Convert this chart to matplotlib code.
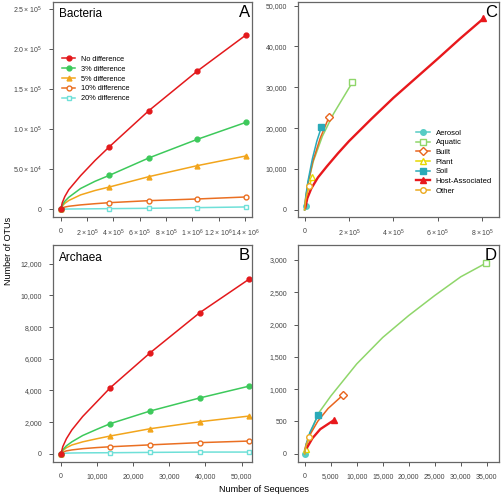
import matplotlib
matplotlib.use("Agg")
import matplotlib.pyplot as plt
from matplotlib.ticker import FixedLocator, FixedFormatter

plt.rcParams["font.family"] = ["Liberation Sans", "DejaVu Sans"]
plt.rcParams["mathtext.fontset"] = "custom"
plt.rcParams["mathtext.rm"] = "Liberation Sans"
plt.rcParams["mathtext.it"] = "Liberation Sans"

# ---- Panel A: Bacteria (marker points at 0 and the last four, early points)
bac_x = [0, 10000, 30000, 60000, 150000, 260000, 370000, 670000, 1040000, 1410000]
bac_none = [0, 8000, 16000, 24500, 42000, 61000, 78300, 123300, 172900, 217900]
bac_3 = [0, 5000, 10000, 15000, 26000, 35000, 42500, 64200, 87500, 108700]
bac_5 = [0, 4000, 7500, 11000, 18000, 23500, 27900, 40800, 54600, 66700]
bac_10 = [0, 1500, 2800, 3800, 5500, 7000, 8300, 10800, 12900, 15400]
bac_20 = [0, 150, 250, 350, 500, 650, 830, 1250, 2080, 2920]

# ---- Panel B: Archaea
arc_x = [0, 500, 1500, 3000, 6000, 10000, 13650, 24720, 38380, 52120]
arc_none = [0, 450, 950, 1500, 2350, 3300, 4170, 6380, 8900, 11030]
arc_3 = [0, 250, 500, 750, 1150, 1550, 1900, 2700, 3520, 4270]
arc_5 = [0, 200, 380, 550, 750, 950, 1120, 1580, 2020, 2380]
arc_10 = [0, 100, 180, 240, 320, 390, 440, 560, 700, 800]
arc_20 = [0, 20, 35, 45, 55, 60, 63, 84, 105, 105]

diff_labels = ["No difference", "3% difference", "5% difference",
               "10% difference", "20% difference"]

# ---- Panel C: bacteria by environment (last point carries the marker)
env_labels = ["Aerosol", "Aquatic", "Built", "Plant", "Soil",
              "Host-Associated", "Other"]
c_x = {
    "Aerosol": [0, 5800],
    "Aquatic": [0, 5000, 15000, 40000, 80000, 130000, 215000],
    "Built": [0, 5000, 15000, 35000, 70000, 109000],
    "Plant": [0, 4000, 12000, 34000],
    "Soil": [0, 5000, 15000, 35000, 55000, 75000],
    "Host-Associated": [3000, 12000, 30000, 60000, 100000, 150000, 200000,
                        300000, 400000, 500000, 600000, 700000, 806000],
    "Other": [0, 5000, 19000],
}
c_y = {
    "Aerosol": [0, 980],
    "Aquatic": [0, 3000, 6500, 12000, 18000, 23500, 31180],
    "Built": [0, 2800, 6300, 11500, 17500, 22600],
    "Plant": [0, 1800, 4200, 8080],
    "Soil": [0, 3200, 7000, 12500, 16800, 20160],
    "Host-Associated": [500, 2800, 5200, 7900, 10600, 13800, 16800,
                        22200, 27400, 32200, 37000, 41900, 46860],
    "Other": [0, 2500, 5880],
}

# ---- Panel D: archaea by environment
d_x = {
    "Aerosol": [0],
    "Aquatic": [0, 1000, 2600, 5000, 10000, 15000, 20000, 25000, 30000, 34900],
    "Built": [0, 300, 1000, 2500, 4500, 7340],
    "Plant": [0, 195],
    "Soil": [0, 300, 1000, 2600],
    "Host-Associated": [500, 1500, 3000, 5650],
    "Other": [0, 300, 844],
}
d_y = {
    "Aerosol": [0],
    "Aquatic": [0, 300, 620, 890, 1390, 1800, 2140, 2450, 2740, 2954],
    "Built": [60, 150, 290, 500, 700, 907],
    "Plant": [0, 67],
    "Soil": [0, 150, 330, 598],
    "Host-Associated": [100, 240, 380, 521],
    "Other": [0, 130, 253],
}

diff_styles = [
    dict(color="#e3191c", marker="o", mfc="#e3191c"),
    dict(color="#3dc95b", marker="o", mfc="#3dc95b"),
    dict(color="#f2a51c", marker="^", mfc="#f2a51c"),
    dict(color="#ea6f22", marker="o", mfc="white"),
    dict(color="#6fe0d8", marker="s", mfc="white"),
]
env_styles = {
    "Aerosol": dict(color="#56ccc4", marker="o", mfc="#56ccc4"),
    "Aquatic": dict(color="#8fd66a", marker="s", mfc="white"),
    "Built": dict(color="#e8641e", marker="D", mfc="white"),
    "Plant": dict(color="#e6d800", marker="^", mfc="white"),
    "Soil": dict(color="#2aaab8", marker="s", mfc="#2aaab8"),
    "Host-Associated": dict(color="#e8181c", marker="^", mfc="#e8181c"),
    "Other": dict(color="#eba91e", marker="o", mfc="white"),
}


def style_axes(ax, xt, xl, yt, yl):
    for s in ax.spines.values():
        s.set_color("#666666")
        s.set_linewidth(0.9)
    ax.xaxis.set_major_locator(FixedLocator(xt))
    ax.xaxis.set_major_formatter(FixedFormatter(xl))
    ax.yaxis.set_major_locator(FixedLocator(yt))
    ax.yaxis.set_major_formatter(FixedFormatter(yl))
    ax.tick_params(length=3, width=0.7, color="#555555", labelsize=5,
                   labelcolor="#444444", pad=5)


fig = plt.figure(figsize=(5.02, 5.01), dpi=100)
axA = fig.add_axes([0.1056, 0.5669, 0.3964, 0.4291])
axB = fig.add_axes([0.1056, 0.0778, 0.3964, 0.4331])
axC = fig.add_axes([0.5936, 0.5669, 0.4004, 0.4291])
axD = fig.add_axes([0.5936, 0.0778, 0.4004, 0.4331])

bac_series = [bac_none, bac_3, bac_5, bac_10, bac_20]
arc_series = [arc_none, arc_3, arc_5, arc_10, arc_20]
marks = [0, 6, 7, 8, 9]
for i in range(4, -1, -1):
    st = diff_styles[i]
    axA.plot(bac_x, bac_series[i], color=st["color"], lw=1.1, marker=st["marker"],
             mfc=st["mfc"], mec=st["color"], ms=3.5, markevery=marks,
             label=diff_labels[i])
    axB.plot(arc_x, arc_series[i], color=st["color"], lw=1.1, marker=st["marker"],
             mfc=st["mfc"], mec=st["color"], ms=3.5, markevery=marks)

h, l = axA.get_legend_handles_labels()
axA.legend(h[::-1], l[::-1], loc="upper left", bbox_to_anchor=(0.03, 0.765),
           frameon=False, fontsize=5.3, handlelength=1.8, handletextpad=0.8,
           labelspacing=0.38, borderaxespad=0)

for name in env_labels:
    st = env_styles[name]
    lw = 1.7 if name == "Host-Associated" else 1.1
    n = len(c_x[name])
    axC.plot(c_x[name], c_y[name], color=st["color"], lw=lw, marker=st["marker"],
             mfc=st["mfc"], mec=st["color"], ms=4, markevery=[n - 1],
             label=name)
    m = len(d_x[name])
    axD.plot(d_x[name], d_y[name], color=st["color"], lw=lw, marker=st["marker"],
             mfc=st["mfc"], mec=st["color"], ms=4, markevery=[m - 1])

axC.legend(loc="lower right", bbox_to_anchor=(0.98, 0.09), frameon=False,
           fontsize=5.5, handlelength=1.8, handletextpad=0.8,
           labelspacing=0.3, borderaxespad=0)

axA.set_xlim(-60000, 1455000)
axA.set_ylim(-9600, 259000)
style_axes(axA,
           [0, 2e5, 4e5, 6e5, 8e5, 1e6, 1.2e6, 1.4e6],
           ["0", r"$2\times10^5$", r"$4\times10^5$", r"$6\times10^5$",
            r"$8\times10^5$", r"$1\times10^6$", r"$1.2\times10^6$",
            r"$1.4\times10^6$"],
           [0, 5e4, 1e5, 1.5e5, 2e5, 2.5e5],
           ["0", r"$5.0\times10^4$", r"$1.0\times10^5$", r"$1.5\times10^5$",
            r"$2.0\times10^5$", r"$2.5\times10^5$"])

axB.set_xlim(-2214, 52900)
axB.set_ylim(-524, 13180)
style_axes(axB,
           [0, 10000, 20000, 30000, 40000, 50000],
           ["0", "10,000", "20,000", "30,000", "40,000", "50,000"],
           [0, 2000, 4000, 6000, 8000, 10000, 12000],
           ["0", "2,000", "4,000", "6,000", "8,000", "10,000", "12,000"])

axC.set_xlim(-30000, 876000)
axC.set_ylim(-1790, 50900)
style_axes(axC,
           [0, 2e5, 4e5, 6e5, 8e5],
           ["0", r"$2\times10^5$", r"$4\times10^5$", r"$6\times10^5$",
            r"$8\times10^5$"],
           [0, 10000, 20000, 30000, 40000, 50000],
           ["0", "10,000", "20,000", "30,000", "40,000", "50,000"])

axD.set_xlim(-1281, 37350)
axD.set_ylim(-129, 3232)
style_axes(axD,
           [0, 5000, 10000, 15000, 20000, 25000, 30000, 35000],
           ["0", "5,000", "10,000", "15,000", "20,000", "25,000", "30,000",
            "35,000"],
           [0, 500, 1000, 1500, 2000, 2500, 3000],
           ["0", "500", "1,000", "1,500", "2,000", "2,500", "3,000"])

axA.text(0.03, 0.97, "Bacteria", transform=axA.transAxes, fontsize=8.5,
         va="top", ha="left")
axB.text(0.03, 0.97, "Archaea", transform=axB.transAxes, fontsize=8.5,
         va="top", ha="left")
for ax, letter in [(axA, "A"), (axB, "B"), (axC, "C"), (axD, "D")]:
    ax.text(0.99, 0.985, letter, transform=ax.transAxes, fontsize=12,
            va="top", ha="right")

fig.text(0.016, 0.5, "Number of OTUs", rotation=90, fontsize=6.5,
         va="center", ha="center")
fig.text(0.525, 0.022, "Number of Sequences", fontsize=6.5,
         va="center", ha="center")

fig.savefig("out.png", dpi=100)
plt.close(fig)
